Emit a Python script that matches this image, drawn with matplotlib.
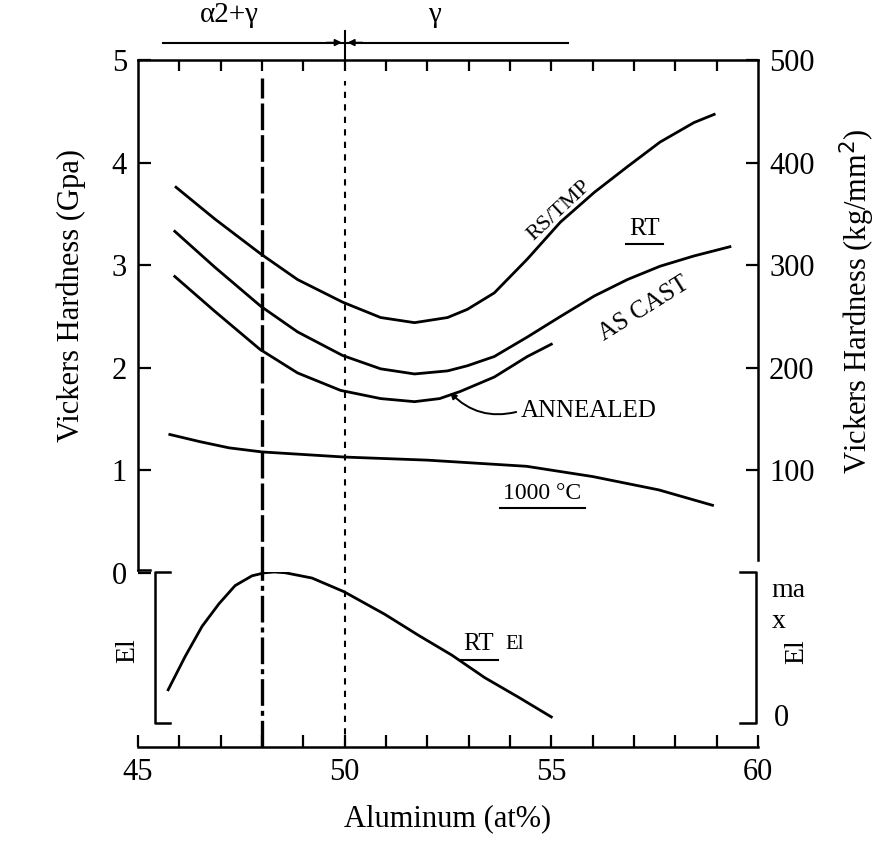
import matplotlib
matplotlib.use("Agg")
import matplotlib.pyplot as plt
import numpy as np

plt.rcParams['font.family'] = ['Liberation Serif', 'DejaVu Serif']

# ---- data ----
rs_x = [45.92, 46.86, 47.97, 48.86, 49.95, 50.87, 51.69, 52.49, 52.97, 53.62, 54.42, 55.22, 56.04, 56.84, 57.63, 58.45, 58.94]
rs_y = [3.76, 3.45, 3.11, 2.86, 2.64, 2.49, 2.44, 2.49, 2.57, 2.73, 3.06, 3.42, 3.71, 3.96, 4.20, 4.39, 4.47]

ac_x = [45.89, 46.86, 47.97, 48.86, 49.95, 50.87, 51.69, 52.49, 52.97, 53.62, 54.42, 55.22, 56.04, 56.84, 57.63, 58.45, 59.32]
ac_y = [3.33, 2.98, 2.60, 2.35, 2.12, 1.99, 1.94, 1.97, 2.02, 2.11, 2.30, 2.50, 2.70, 2.86, 2.99, 3.09, 3.18]

an_x = [45.89, 46.86, 47.95, 48.86, 49.90, 50.87, 51.69, 52.3, 52.8, 53.62, 54.42, 55.0]
an_y = [2.89, 2.55, 2.18, 1.95, 1.78, 1.70, 1.67, 1.70, 1.77, 1.91, 2.11, 2.23]

ht_x = [45.77, 46.5, 47.2, 48.0, 50.0, 52.0, 54.4, 56.0, 57.6, 58.9]
ht_y = [1.35, 1.28, 1.22, 1.18, 1.13, 1.10, 1.04, 0.94, 0.81, 0.66]

el_x = [45.73, 46.14, 46.55, 46.96, 47.35, 47.76, 48.07, 48.3, 48.56, 49.21, 49.98, 50.97, 51.79, 52.59, 53.39, 54.21, 55.00]
el_y = [0.22, 0.44, 0.64, 0.79, 0.91, 0.975, 0.995, 1.00, 0.995, 0.96, 0.87, 0.72, 0.58, 0.45, 0.30, 0.17, 0.04]

x_ticks = [45, 50, 55, 60]
gpa_ticks = [0, 1, 2, 3, 4, 5]
kg_ticks = [100, 200, 300, 400, 500]
phase_boundary_dashed = 48
phase_boundary_dotted = 50

W, H = 894, 847
fig = plt.figure(figsize=(W / 100, H / 100), dpi=100)

def rect(l, t, r, b):
    return [l / W, 1 - b / H, (r - l) / W, (b - t) / H]

ax1 = fig.add_axes(rect(138, 60, 758, 573))
ax2 = fig.add_axes(rect(138, 572, 758, 747))
for a in (ax1, ax2):
    a.patch.set_alpha(0)

lw = 2.0
ax1.plot(rs_x, rs_y, color='k', lw=lw)
ax1.plot(ac_x, ac_y, color='k', lw=lw)
ax1.plot(an_x, an_y, color='k', lw=lw)
ax1.plot(ht_x, ht_y, color='k', lw=lw)

ax1.set_xlim(45, 60)
ax1.set_ylim(0, 5)
ax1.spines['bottom'].set_visible(False)
ax1.spines['left'].set_bounds(0.03, 5)
ax1.spines['right'].set_bounds(0.13, 5)
for s in ax1.spines.values():
    s.set_linewidth(1.8)
ax1.set_yticks(gpa_ticks)
ax1.tick_params(axis='y', direction='in', length=9, width=1.6, labelsize=22, pad=8)
ax1.xaxis.tick_top()
ax1.set_xticks(np.arange(46, 60, 1))
ax1.tick_params(axis='x', direction='in', length=8, width=1.6, labeltop=False)
ax1.plot([45, 45 + 0.3], [0.03, 0.03], color='k', lw=1.8, clip_on=False)
ax1.set_ylabel('Vickers Hardness (Gpa)', fontsize=22)
ax1.yaxis.set_label_coords(-0.084, 0.54)

axr = ax1.twinx()
axr.set_ylim(0, 500)
axr.set_yticks(kg_ticks)
axr.tick_params(axis='y', direction='in', length=9, width=1.6, labelsize=22, pad=8)
for s in axr.spines.values():
    s.set_visible(False)
axr.set_ylabel('Vickers Hardness (kg/mm$^2$)', fontsize=22)
axr.yaxis.set_label_coords(1.129, 0.53)

# phase boundary lines
ax1.axvline(phase_boundary_dashed, ymin=0, ymax=0.965, color='k', lw=2.4, dashes=(8, 1.5))
ax1.axvline(phase_boundary_dotted, ymin=0, ymax=0.96, color='k', lw=1.5, dashes=(3, 3))
ax2.axvline(phase_boundary_dashed, color='k', lw=2.4, dashes=(8, 1.5, 1.5, 1.5))
ax2.axvline(phase_boundary_dotted, ymax=0.96, color='k', lw=1.5, dashes=(3, 3))

# phase arrow on top
ya = 5.17
ax1.plot([45.6, 55.4], [ya, ya], color='k', lw=1.5, clip_on=False)
ax1.plot([phase_boundary_dotted] * 2, [5.0, 5.28], color='k', lw=1.5, clip_on=False)
ax1.annotate('', xy=(phase_boundary_dotted, ya), xytext=(49.5, ya), annotation_clip=False,
             arrowprops=dict(arrowstyle='-|>', color='k', lw=1.2, mutation_scale=10))
ax1.annotate('', xy=(phase_boundary_dotted, ya), xytext=(50.5, ya), annotation_clip=False,
             arrowprops=dict(arrowstyle='-|>', color='k', lw=1.2, mutation_scale=10))
ax1.text(47.2, 5.44, 'α2+γ', fontsize=21, ha='center', va='center')
ax1.text(52.17, 5.44, 'γ', fontsize=21, ha='center', va='center')

# curve labels
def underlined(ax, x, y, s, size, width_data, dy):
    ax.text(x, y, s, fontsize=size, ha='center', va='center')
    ax.plot([x - width_data / 2, x + width_data / 2], [y - dy, y - dy], color='k', lw=1.5)

ax1.text(55.2, 3.53, 'RS/TMP', fontsize=16, rotation=43, ha='center', va='center')
underlined(ax1, 57.25, 3.35, 'RT', 18, 0.9, 0.14)
ax1.text(57.25, 2.57, 'AS CAST', fontsize=18, rotation=32, ha='center', va='center')
underlined(ax1, 54.78, 0.77, '1000 °C', 17, 2.05, 0.14)
ax1.annotate('ANNEALED', xy=(52.55, 1.76), xytext=(54.25, 1.58), fontsize=18,
             ha='left', va='center',
             arrowprops=dict(arrowstyle='-|>', color='k', lw=1.4, mutation_scale=9,
                             connectionstyle='arc3,rad=-0.3', shrinkA=1, shrinkB=0,
                             relpos=(0, 0.5)))

# lower panel
ax2.plot(el_x, el_y, color='k', lw=lw)
ax2.set_xlim(45, 60)
ax2.set_ylim(-0.159, 1.0)
for k in ('left', 'right', 'top'):
    ax2.spines[k].set_visible(False)
ax2.spines['bottom'].set_linewidth(1.8)
ax2.set_yticks([])
ax2.set_xticks(x_ticks)
ax2.set_xticks(np.arange(45, 61, 1), minor=True)
ax2.tick_params(axis='x', which='both', direction='in', length=9, width=1.6, labelsize=22, pad=8)
ax2.set_xlabel('Aluminum (at%)', fontsize=22, labelpad=12)

bt = ax2.get_yaxis_transform()
ax2.plot([0.052, 0.027, 0.027, 0.052], [1.0, 1.0, 0.0, 0.0], color='k', lw=1.8, transform=bt, clip_on=False)
ax2.plot([0.971, 0.997, 0.997, 0.971], [1.0, 1.0, 0.0, 0.0], color='k', lw=1.8, transform=bt, clip_on=False)
ax2.text(-0.016, 0.48, 'El', fontsize=20, rotation=90, ha='center', va='center', transform=bt)
ax2.text(1.022, 0.88, 'ma', fontsize=20, ha='left', va='center', transform=bt)
ax2.text(1.022, 0.67, 'x', fontsize=20, ha='left', va='center', transform=bt)
ax2.text(1.062, 0.47, 'El', fontsize=20, rotation=90, ha='center', va='center', transform=bt)
ax2.text(1.025, 0.03, '0', fontsize=22, ha='left', va='center', transform=bt)
ax2.text(53.25, 0.52, 'RT', fontsize=18, ha='center', va='center')
ax2.plot([52.8, 53.7], [0.42, 0.42], color='k', lw=1.5)
ax2.text(54.1, 0.52, 'El', fontsize=15, ha='center', va='center')

fig.savefig('out.png', dpi=100)
